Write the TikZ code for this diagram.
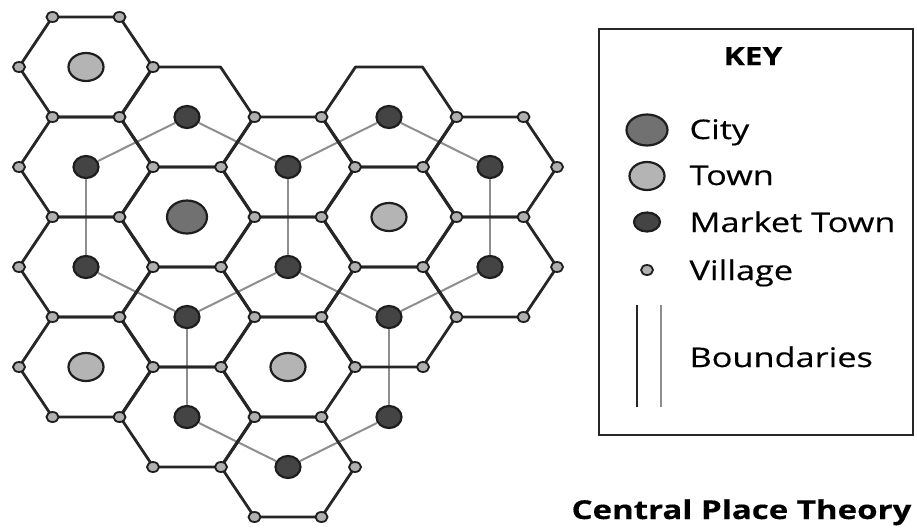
\documentclass[tikz,border=0pt]{standalone}
\usepackage{fontspec}
\setmainfont[FakeStretch=1.27,FakeBold=0.4]{Open Sans}
\usetikzlibrary{shapes.geometric}

\definecolor{edgegray}{HTML}{262626}
\definecolor{linkgray}{HTML}{8E8E8E}
\definecolor{rimgray}{HTML}{1E1E1E}
\definecolor{citygray}{HTML}{717171}
\definecolor{towngray}{HTML}{B4B4B4}
\definecolor{marketgray}{HTML}{444444}
\definecolor{villagegray}{HTML}{B0B0B0}

\tikzset{
  hexedge/.style={draw=edgegray, line width=2.8pt, line join=round},
  link/.style={draw=linkgray, line width=2pt},
  place/.style={ellipse, draw=rimgray, line width=2.2pt, inner sep=0pt},
  city/.style={place, fill=citygray, minimum width=40pt, minimum height=33pt},
  town/.style={place, fill=towngray, minimum width=35pt, minimum height=28pt},
  market/.style={place, fill=marketgray, minimum width=25pt, minimum height=22pt},
  village/.style={place, fill=villagegray, line width=1.8pt, minimum width=12pt, minimum height=10pt},
  keytext/.style={anchor=base west, font=\fontsize{27}{30}\selectfont},
  keyhead/.style={anchor=base, font=\fontsize{25}{28}\selectfont\bfseries}
}

\begin{document}
\begin{tikzpicture}[x=1pt,y=-1pt]
\useasboundingbox (0,0) rectangle (917,527);
% market towns
\node[market] (m1)  at (187,117) {};
\node[market] (m2)  at (389,117) {};
\node[market] (m3)  at (86,167)  {};
\node[market] (m4)  at (288,167) {};
\node[market] (m5)  at (490,167) {};
\node[market] (m6)  at (86,267)  {};
\node[market] (m7)  at (288,267) {};
\node[market] (m8)  at (490,267) {};
\node[market] (m9)  at (187,317) {};
\node[market] (m10) at (389,317) {};
\node[market] (m11) at (187,417) {};
\node[market] (m12) at (389,417) {};
\node[market] (m13) at (288,467) {};
% links between market towns
\draw[link] (m3) -- (m1) -- (m4) -- (m2) -- (m5);
\draw[link] (m3) -- (m6);
\draw[link] (m4) -- (m7);
\draw[link] (m5) -- (m8);
\draw[link] (m6) -- (m9) -- (m7) -- (m10) -- (m8);
\draw[link] (m9) -- (m11);
\draw[link] (m10) -- (m12);
\draw[link] (m11) -- (m13) -- (m12);
% hexagons
\foreach \cx/\cy in {86/67,86/167,86/267,86/367,
                     187/117,187/217,187/317,187/417,
                     288/167,288/267,288/367,288/467,
                     389/117,389/217,389/317,
                     490/167,490/267}
  \draw[hexedge] (\cx-67,\cy) -- (\cx-33.5,\cy-50) -- (\cx+33.5,\cy-50)
    -- (\cx+67,\cy) -- (\cx+33.5,\cy+50) -- (\cx-33.5,\cy+50) -- cycle;
% city and towns
\node[city] (c1) at (187,217) {};
\node[town] (t1) at (86,67)   {};
\node[town] (t2) at (389,217) {};
\node[town] (t3) at (86,367)  {};
\node[town] (t4) at (288,367) {};
% villages
\foreach \vx/\vy [count=\i] in {52.5/17,119.5/17,
    19/67,153/67,
    52.5/117,119.5/117,254.5/117,321.5/117,456.5/117,523.5/117,
    19/167,153/167,221/167,355/167,423/167,557/167,
    52.5/217,119.5/217,254.5/217,321.5/217,456.5/217,523.5/217,
    19/267,153/267,221/267,355/267,423/267,557/267,
    52.5/317,119.5/317,254.5/317,321.5/317,456.5/317,523.5/317,
    19/367,153/367,221/367,355/367,423/367,
    52.5/417,119.5/417,254.5/417,321.5/417,
    153/467,221/467,355/467,
    254.5/517,321.5/517}
  \node[village] (v\i) at (\vx,\vy) {};
% key
\draw[line width=1.6pt, draw=edgegray] (599,29) rectangle (913,435);
\node[keyhead] (key) at (753,65) {KEY};
\node[city, minimum width=41pt, minimum height=31pt] (kcity) at (647,130) {};
\node[town, minimum width=35pt, minimum height=28pt] (ktown) at (647,176) {};
\node[market, minimum width=26pt, minimum height=19pt] (kmarket) at (647,222) {};
\node[village] (kvillage) at (647,270) {};
\node[keytext] (lcity) at (686,139) {City};
\node[keytext] (ltown) at (686,185) {Town};
\node[keytext] (lmarket) at (686,232) {Market Town};
\node[keytext] (lvillage) at (686,280) {Village};
\node[keytext] (lbound) at (686,367) {Boundaries};
\draw[edgegray, line width=2pt] (637,305) -- (637,407);
\draw[linkgray, line width=2pt] (661,305) -- (661,407);
% title
\node[anchor=base west, font=\fontsize{26}{30}\selectfont\bfseries] (title) at (568,519) {Central Place Theory};
\end{tikzpicture}
\end{document}
